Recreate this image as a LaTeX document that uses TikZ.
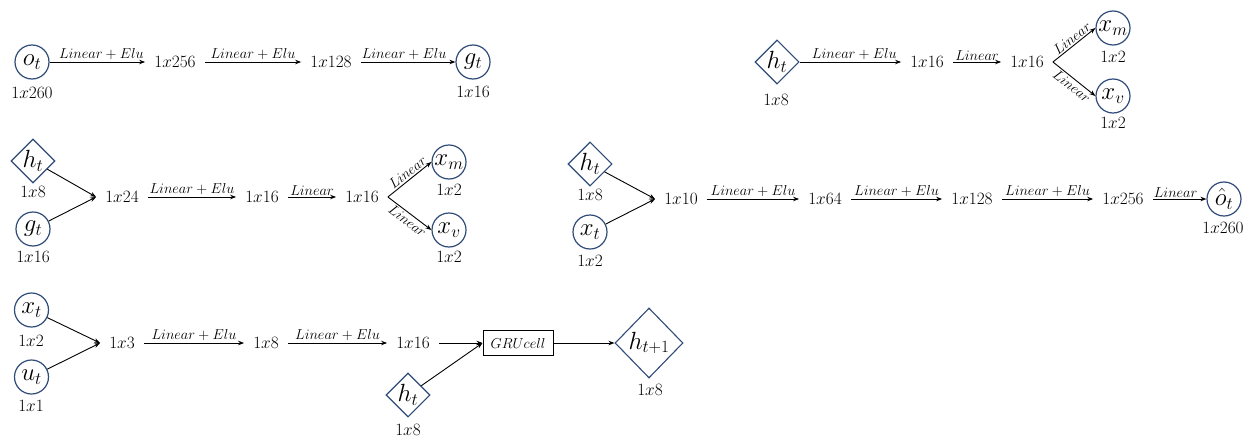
\documentclass[tikz,border=0pt]{standalone}
\usetikzlibrary{shapes.geometric,arrows.meta}
\definecolor{navy}{RGB}{47,75,120}
\begin{document}
\begin{tikzpicture}[x=1pt,y=-1pt,
  circ/.style={circle,draw=navy,line width=1.2pt,minimum size=34pt,inner sep=0pt},
  diam/.style={diamond,draw=navy,line width=1.1pt,minimum width=44pt,minimum height=44pt,inner sep=0pt},
  sym/.style={inner sep=0pt,font=\fontsize{26}{26}\selectfont},
  dim/.style={inner sep=1pt,font=\fontsize{16}{16}\selectfont},
  sizecap/.style={inner sep=1pt,font=\fontsize{16}{16}\selectfont},
  arr/.style={-{Stealth[length=6pt,width=4.5pt]},line width=0.9pt},
  fromd/.style={shorten <=8pt},
  tod/.style={shorten >=8pt},
  lab/.style={midway,above,inner sep=1.5pt,font=\fontsize{15}{15}\selectfont},
  slab/.style={pos=0.55,sloped,inner sep=1.5pt,font=\fontsize{15}{15}\selectfont},
]
\useasboundingbox (0,0) rectangle (1255,439);

% ---------- Row 1 left ----------
\node[circ] (ot) at (32,62) {};
\node[sym] (otT) at (ot) {$o_t$};
\node[sizecap] (otC) at (32,93) {$1x260$};
\node[dim] (d256) at (175,62) {$1x256$};
\node[dim] (d128) at (331,62) {$1x128$};
\node[circ] (gt) at (473,62) {};
\node[sym] (gtT) at (gt) {$g_t$};
\node[sizecap] (gtC) at (473,92) {$1x16$};
\draw[arr,tod] (ot.east) -- (d256.west) node[lab] {$Linear + Elu$};
\draw[arr,fromd,tod] (d256.east) -- (d128.west) node[lab] {$Linear + Elu$};
\draw[arr,fromd] (d128.east) -- (gt.west) node[lab] {$Linear + Elu$};

% ---------- Row 1 right ----------
\node[diam] (ht1) at (777,62) {};
\node[sym] (ht1T) at (ht1) {$h_t$};
\node[sizecap] (ht1C) at (776,100) {$1x8$};
\node[dim] (d16a) at (927,62) {$1x16$};
\node[dim] (d16b) at (1027,62) {$1x16$};
\coordinate (b1) at ([xshift=8pt]d16b.east);
\node[circ] (xm1) at (1113,28) {};
\node[sym] (xm1T) at (xm1) {$x_m$};
\node[sizecap] (xm1C) at (1113,57) {$1x2$};
\node[circ] (xv1) at (1113,96) {};
\node[sym] (xv1T) at (xv1) {$x_v$};
\node[sizecap] (xv1C) at (1113,123) {$1x2$};
\draw[arr,tod] (ht1.east) -- (d16a.west) node[lab] {$Linear + Elu$};
\draw[arr,fromd,tod] (d16a.east) -- (d16b.west) node[lab] {$Linear$};
\draw[arr] (b1) -- (xm1.west) node[slab,above] {$Linear$};
\draw[arr] (b1) -- (xv1.west) node[slab,below] {$Linear$};

% ---------- Row 2 left ----------
\node[diam] (ht2) at (33,161) {};
\node[sym] (ht2T) at (ht2) {$h_t$};
\node[sizecap] (ht2C) at (33,192) {$1x8$};
\node[circ] (gt2) at (33,229) {};
\node[sym] (gt2T) at (gt2) {$g_t$};
\node[sizecap] (gt2C) at (33,257) {$1x16$};
\node[dim] (d24) at (122,197) {$1x24$};
\coordinate (m2) at ([xshift=-8pt]d24.west);
\node[dim] (d16c) at (262,197) {$1x16$};
\node[dim] (d16d) at (362,197) {$1x16$};
\coordinate (b2) at ([xshift=8pt]d16d.east);
\node[circ] (xm2) at (449,162) {};
\node[sym] (xm2T) at (xm2) {$x_m$};
\node[sizecap] (xm2C) at (449,190) {$1x2$};
\node[circ] (xv2) at (449,230) {};
\node[sym] (xv2T) at (xv2) {$x_v$};
\node[sizecap] (xv2C) at (449,257) {$1x2$};
\draw[arr] (ht2) -- (m2);
\draw[arr] (gt2) -- (m2);
\draw[arr,fromd,tod] (d24.east) -- (d16c.west) node[lab] {$Linear + Elu$};
\draw[arr,fromd,tod] (d16c.east) -- (d16d.west) node[lab] {$Linear$};
\draw[arr] (b2) -- (xm2.west) node[slab,above] {$Linear$};
\draw[arr] (b2) -- (xv2.west) node[slab,below] {$Linear$};

% ---------- Row 2 right ----------
\node[diam] (ht3) at (590,164) {};
\node[sym] (ht3T) at (ht3) {$h_t$};
\node[sizecap] (ht3C) at (590,195) {$1x8$};
\node[circ] (xt3) at (590,232) {};
\node[sym] (xt3T) at (xt3) {$x_t$};
\node[sizecap] (xt3C) at (590,261) {$1x2$};
\node[dim] (d10) at (681,199) {$1x10$};
\coordinate (m3) at ([xshift=-8pt]d10.west);
\node[dim] (d64) at (825,199) {$1x64$};
\node[dim] (d128b) at (972,199) {$1x128$};
\node[dim] (d256b) at (1123,199) {$1x256$};
\node[circ] (oh) at (1224,199) {};
\node[sym] (ohT) at (oh) {$\hat{o}_t$};
\node[sizecap] (ohC) at (1223,228) {$1x260$};
\draw[arr] (ht3) -- (m3);
\draw[arr] (xt3) -- (m3);
\draw[arr,fromd,tod] (d10.east) -- (d64.west) node[lab] {$Linear + Elu$};
\draw[arr,fromd,tod] (d64.east) -- (d128b.west) node[lab] {$Linear + Elu$};
\draw[arr,fromd,tod] (d128b.east) -- (d256b.west) node[lab] {$Linear + Elu$};
\draw[arr,fromd] (d256b.east) -- (oh.west) node[lab] {$Linear$};

% ---------- Row 3 ----------
\node[circ] (xt4) at (31.5,310) {};
\node[sym] (xt4T) at (xt4) {$x_t$};
\node[sizecap] (xt4C) at (31,341) {$1x2$};
\node[circ] (ut4) at (31.5,377) {};
\node[sym] (ut4T) at (ut4) {$u_t$};
\node[sizecap] (ut4C) at (31,406) {$1x1$};
\node[dim] (d3) at (122,343) {$1x3$};
\coordinate (m4) at ([xshift=-8pt]d3.west);
\node[dim] (d8) at (266,343) {$1x8$};
\node[dim] (d16e) at (413,343) {$1x16$};
\node[draw,line width=1pt,minimum width=70pt,minimum height=25pt,inner sep=0pt,
      font=\fontsize{14}{14}\selectfont] (gru) at (518,343) {$GRUcell$};
\node[diam] (ht4) at (408,395) {};
\node[sym] (ht4T) at (ht4) {$h_t$};
\node[sizecap] (ht4C) at (408,430) {$1x8$};
\node[diam,minimum width=68pt,minimum height=70pt] (hn) at (649,343) {};
\node[sym] (hnT) at (hn) {$h_{t+1}$};
\node[sizecap] (hnC) at (650,390) {$1x8$};
\draw[arr] (xt4) -- (m4);
\draw[arr] (ut4) -- (m4);
\draw[arr,fromd,tod] (d3.east) -- (d8.west) node[lab] {$Linear + Elu$};
\draw[arr,fromd,tod] (d8.east) -- (d16e.west) node[lab] {$Linear + Elu$};
\draw[arr,fromd] (d16e.east) -- (gru.west);
\draw[arr] (ht4) -- (gru.west);
\draw[arr] (gru.east) -- (hn.west);
\end{tikzpicture}
\end{document}
